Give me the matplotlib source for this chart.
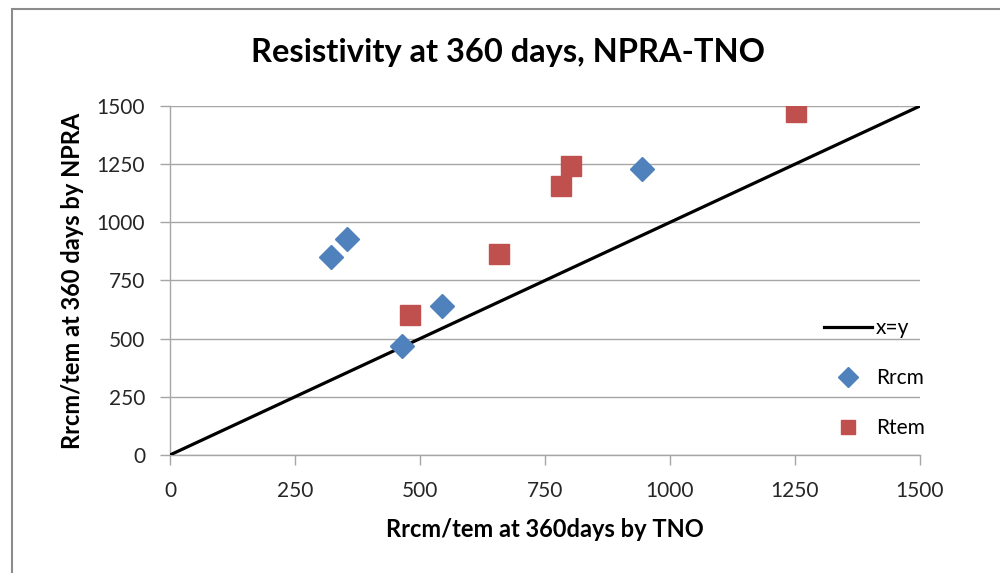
import numpy as np
import matplotlib.pyplot as plt
from matplotlib.patches import Rectangle

plt.rcParams['font.family'] = ['Lato', 'DejaVu Sans']

# x=y reference line
line_x = [0, 1500]
line_y = [0, 1500]

# Rrcm (TNO, NPRA)
rrcm_x = [322, 353, 463, 543, 944]
rrcm_y = [850, 927, 470, 639, 1230]

# Rtem (TNO, NPRA)
rtem_x = [480, 657, 781, 801, 1252]
rtem_y = [603, 863, 1156, 1243, 1474]

ticks = [0, 250, 500, 750, 1000, 1250, 1500]

fig = plt.figure(figsize=(10, 5.73), dpi=100)
ax = fig.add_axes([0.170, 0.206, 0.750, 0.609])

# outer chart border
fig.patches.append(Rectangle((0.012, -0.1), 1.2, 1.084, transform=fig.transFigure,
                             fill=False, edgecolor='#8c8c8c', linewidth=1.5))

ax.plot(line_x, line_y, color='black', linewidth=2.3, label='x=y', zorder=3)
ax.plot(rrcm_x, rrcm_y, linestyle='none', marker='D', markersize=12.5,
        color='#4F81BD', label='Rrcm', zorder=4)
ax.plot(rtem_x, rtem_y, linestyle='none', marker='s', markersize=15,
        color='#C0504D', label='Rtem', zorder=4)

ax.set_xlim(0, 1500)
ax.set_ylim(0, 1500)
ax.set_xticks(ticks)
ax.set_yticks(ticks)
ax.yaxis.grid(True, color='#a6a6a6', linewidth=1)
ax.set_axisbelow(True)
for s in ['top', 'right']:
    ax.spines[s].set_visible(False)
for s in ['left', 'bottom']:
    ax.spines[s].set_color('#a6a6a6')
    ax.spines[s].set_linewidth(1)
ax.tick_params(axis='both', colors='#a6a6a6', length=7, width=1, labelsize=15,
               labelcolor='#262626')
ax.tick_params(axis='x', pad=12)
ax.tick_params(axis='y', pad=11)

fig.text(0.508, 0.908, 'Resistivity at 360 days, NPRA-TNO', fontsize=23.5,
         fontweight='bold', ha='center', va='center')
ax.set_xlabel('Rrcm/tem at 360days by TNO', fontsize=17, fontweight='bold',
              labelpad=12)
ax.set_ylabel('Rrcm/tem at 360 days by NPRA', fontsize=17, fontweight='bold',
              labelpad=9)

leg = ax.legend(loc='center left', bbox_to_anchor=(0.805, 0.34), frameon=False,
                fontsize=15, handlelength=2.3, labelspacing=1.45, handletextpad=0.2,
                bbox_transform=fig.transFigure)
for h in leg.legend_handles[1:]:
    h.set_markersize(10)

fig.savefig('out.png', dpi=100)
